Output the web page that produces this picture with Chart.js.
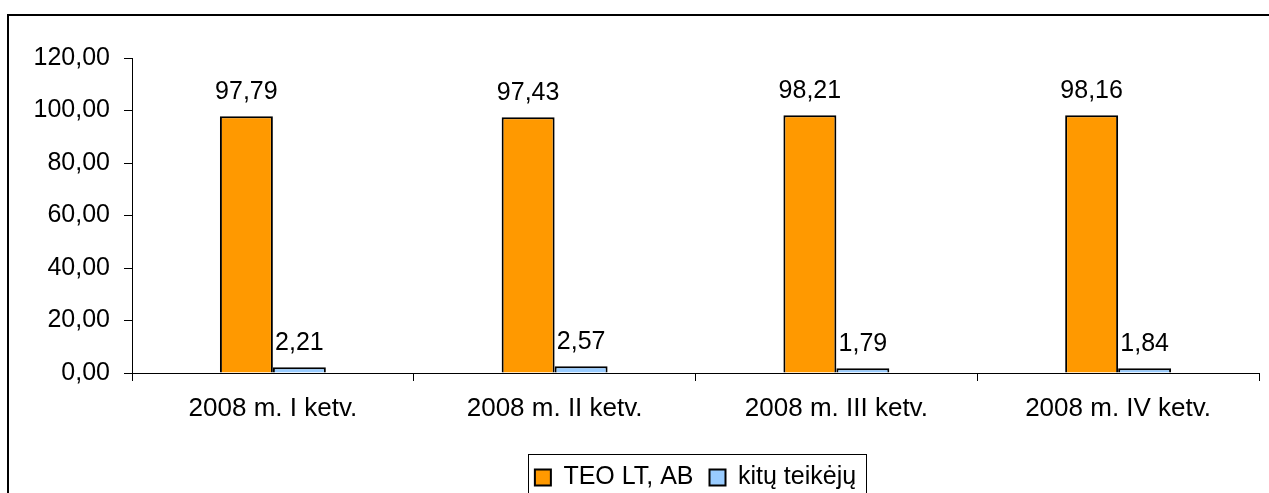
<!DOCTYPE html>
<html>
<head>
<meta charset="utf-8">
<script src="https://cdn.jsdelivr.net/npm/chart.js@4/dist/chart.umd.min.js"></script>
<style>
  html, body { margin: 0; padding: 0; background: #fff; overflow: hidden; }
  #wrap { position: relative; width: 1269px; height: 493px; overflow: hidden; }
  #frame { position: absolute; left: 7px; top: 14px; width: 2000px; height: 1000px;
           border-left: 2px solid #000; border-top: 2px solid #000; }
  #chart { position: absolute; left: 0; top: 0; }
</style>
</head>
<body>
<div id="wrap">
  <div id="frame"></div>
  <canvas id="chart" width="1269" height="500"></canvas>
</div>
<script>
// Chart data
const categories = ['2008 m. I ketv.', '2008 m. II ketv.', '2008 m. III ketv.', '2008 m. IV ketv.'];
const teoValues = [97.79, 97.43, 98.21, 98.16];
const otherValues = [2.21, 2.57, 1.79, 1.84];
const seriesNames = ['TEO LT, AB', 'kitų teikėjų'];

const FONT = '"Liberation Sans", Arial, sans-serif';
const fmt = v => Number(v).toFixed(2).replace('.', ',');

// Value labels above each bar
const valueLabels = {
  id: 'valueLabels',
  afterDatasetsDraw(chart) {
    const ctx = chart.ctx;
    ctx.save();
    ctx.font = '25px ' + FONT;
    ctx.fillStyle = '#000';
    ctx.textAlign = 'center';
    ctx.textBaseline = 'alphabetic';
    chart.data.datasets.forEach((ds, i) => {
      chart.getDatasetMeta(i).data.forEach((bar, j) => {
        ctx.fillText(fmt(ds.data[j]), bar.x, bar.y - 17);
      });
    });
    ctx.restore();
  }
};

// Center the legend on the plot area and draw a frame around it
const legendFrame = {
  id: 'legendFrame',
  beforeDraw(chart) {
    const lg = chart.legend;
    lg.left = chart.chartArea.left;
    lg.right = chart.chartArea.right;
  },
  afterDraw(chart) {
    const lg = chart.legend;
    const pad = lg.options.labels.padding;
    const x0 = (lg.left + pad + lg.right - lg.lineWidths[0]) / 2;
    const x1 = x0 + lg.lineWidths[0] - pad;
    const cy = lg.top + 28;
    const ctx = chart.ctx;
    ctx.save();
    ctx.strokeStyle = '#000';
    ctx.lineWidth = 1;
    ctx.strokeRect(Math.round(x0 - 7) + 0.5, Math.round(cy - 23) + 0.5, Math.round(x1 - x0 + 17), 200);
    ctx.restore();
  }
};

const ctx = document.getElementById('chart').getContext('2d');
const shareChart = new Chart(ctx, {
  type: 'bar',
  data: {
    labels: categories,
    datasets: [
      {
        label: seriesNames[0],
        data: teoValues,
        backgroundColor: '#FF9900',
        borderColor: '#000',
        borderWidth: 2,
      },
      {
        label: seriesNames[1],
        data: otherValues,
        backgroundColor: '#99CCFF',
        borderColor: '#000',
        borderWidth: 2,
      },
    ],
  },
  options: {
    responsive: false,
    animation: false,
    layout: { padding: { top: 58, left: 0, right: 10, bottom: 0 } },
    datasets: {
      bar: { categoryPercentage: 0.376, barPercentage: 1 },
    },
    plugins: {
      legend: {
        position: 'bottom',
        labels: {
          font: { family: FONT, size: 25 },
          color: '#000',
          boxWidth: 16,
          boxHeight: 16,
          padding: 16,
        },
      },
      tooltip: { enabled: false },
    },
    scales: {
      x: {
        grid: { drawOnChartArea: false, tickLength: 8, color: '#000', lineWidth: 1 },
        border: { color: '#000', width: 1 },
        ticks: { font: { family: FONT, size: 26 }, color: '#000', padding: 12, maxRotation: 0 },
        afterFit(scale) { scale.height = 76; },
      },
      y: {
        min: 0,
        max: 120,
        grid: { drawOnChartArea: false, tickLength: 8, color: '#000', lineWidth: 1 },
        border: { color: '#000', width: 1 },
        ticks: { stepSize: 20, font: { family: FONT, size: 25 }, color: '#000', padding: 14, callback: v => fmt(v) },
        afterFit(scale) { scale.width = 132; },
      },
    },
  },
  plugins: [valueLabels, legendFrame],
});
</script>
</body>
</html>
